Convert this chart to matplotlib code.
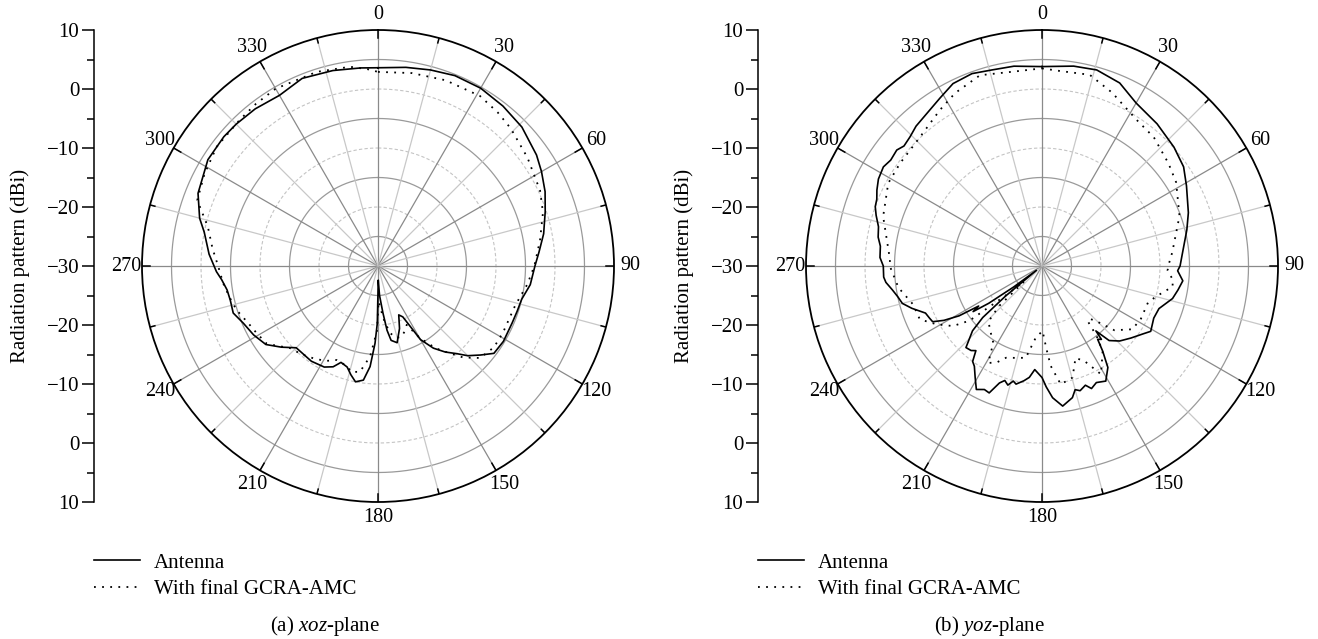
import numpy as np
import matplotlib.pyplot as plt

plt.rcParams['font.family'] = 'Liberation Serif'
plt.rcParams['mathtext.fontset'] = 'custom'
plt.rcParams['mathtext.rm'] = 'Liberation Serif'
plt.rcParams['mathtext.it'] = 'Liberation Serif:italic'

# xoz-plane, antenna alone (angle in deg, gain in dBi)
xoz_ant_ang = [0, 8, 15, 22, 30, 38, 46, 55, 60, 66, 72, 79, 85, 90, 97, 103, 108, 113, 121, 127,
               131, 135, 138, 142, 146, 150, 154, 157, 161, 166, 170, 172, 174, 177, 179, 180.7,
               182.2, 184.5, 187.3, 191, 194, 197, 201, 204, 208, 215, 225, 230, 235, 241, 247,
               252, 257, 261, 265, 268, 274, 281, 285, 292, 302, 310, 315, 322, 330, 338, 347,
               355, 360]
xoz_ant_val = [3.6, 4.0, 4.4, 4.8, 4.8, 4.4, 3.9, 2.8, 2.0, 1.0, -0.2, -1.4, -2.6, -3.4, -4.0,
               -5.0, -5.2, -5.3, -5.2, -5.4, -7.0, -8.5, -10.0, -11.5, -13.2, -15.6, -20.4, -21.0,
               -18.8, -16.6, -17.2, -19.0, -22.0, -25.0, -27.6, -20.3, -16.9, -12.9, -10.5, -10.0,
               -11.0, -12.1, -12.5, -11.3, -10.6, -10.3, -10.4, -8.6, -6.8, -5.9, -5.2, -4.2, -4.3,
               -4.1, -3.4, -2.6, -1.3, 0.0, 1.3, 2.9, 4.0, 4.1, 4.0, 3.8, 3.4, 4.3, 4.0, 3.7, 3.6]

# xoz-plane, with final GCRA-AMC
xoz_amc_ang = [0, 10, 20, 31, 38, 44, 54, 65, 72, 81, 90, 97, 106, 118, 125, 132, 137, 140.5, 145,
               150, 154, 158, 162, 166, 170, 174, 177, 179, 181, 185, 189.7, 194, 198, 203.7, 209,
               215, 221, 227, 235, 241, 246, 252.7, 258, 263.6, 270, 276, 283, 290, 298, 306.5,
               316.6, 323, 330, 342.5, 352, 357, 360]
xoz_amc_val = [2.9, 3.2, 3.5, 3.6, 3.0, 2.4, 1.3, 0.3, -0.6, -2.2, -3.5, -4.5, -5.8, -6.0, -6.0,
               -6.7, -8.8, -10.8, -13.0, -16.0, -18.9, -18.0, -17.3, -17.5, -18.5, -21.0, -23.0,
               -24.0, -18.9, -14.6, -11.8, -11.5, -12.3, -12.6, -11.6, -10.9, -10.2, -9.6, -7.0,
               -6.5, -6.0, -4.9, -4.3, -3.6, -2.9, -1.8, -0.4, 2.6, 3.3, 4.0, 4.1, 4.4, 4.7, 4.5,
               4.1, 3.4, 2.9]

# yoz-plane, antenna alone
yoz_ant_ang = [0, 9, 15.6, 23, 30, 39, 48, 55, 61, 70, 76, 84, 90, 92, 96, 100, 104, 110, 115, 121,
               124, 129, 134, 138, 140.3, 141, 142.8, 144.5, 147, 151, 155, 158, 160, 163, 165, 167,
               171.6, 175.4, 178, 180, 184, 186.5, 189, 192.4, 194, 196, 198, 200, 202.6, 205, 208,
               211, 214, 216, 218, 220, 223, 227, 229, 230.5, 232, 233.5, 235, 236.5, 237.7, 239,
               241, 243, 245, 248, 252, 255, 258, 261, 264, 266, 270, 273, 277, 280, 283.5, 287,
               289.6, 292, 294.7, 298, 302, 305, 308.6, 311, 314.4, 318, 323, 328.7, 334, 340,
               345.6, 352, 360]
yoz_ant_val = [3.8, 4.3, 4.5, 3.7, 1.9, 1.0, 0.1, -0.7, -2.0, -3.6, -4.7, -6.0, -6.6, -7.0, -6.0,
               -6.6, -7.2, -8.9, -9.1, -8.5, -9.4, -10.6, -11.7, -13.0, -15.7, -14.0, -14.4, -12.3,
               -9.5, -7.7, -8.2, -7.6, -8.5, -7.9, -8.3, -7.1, -6.0, -7.6, -9.5, -11.1, -12.4,
               -11.0, -10.3, -9.5, -9.9, -9.0, -9.6, -8.9, -6.7, -6.9, -6.3, -8.0, -9.5, -10.0,
               -11.8, -11.3, -11.1, -13.9, -16.7, -22.0, -28.8, -24.0, -19.0, -16.0, -17.3, -13.6,
               -11.0, -9.2, -9.0, -8.7, -6.8, -5.5, -5.0, -4.3, -3.4, -3.1, -3.1, -2.5, -2.4, -1.8,
               -1.5, -0.6, 0.0, 0.2, 0.8, 1.4, 1.7, 1.3, 1.5, 1.0, 1.3, 1.9, 2.4, 3.3, 4.4, 4.7,
               4.3, 4.2, 3.8]

# yoz-plane, with final GCRA-AMC
yoz_amc_ang = [0, 5, 14, 22, 33, 41, 51, 58, 70, 84, 90, 92, 96, 99, 105, 109, 118, 125, 131.6,
               135.5, 138, 140.3, 142, 144.5, 151.4, 156, 160, 164.7, 171, 175, 177, 179.5, 182,
               185, 190, 196, 201.4, 205, 209, 212.4, 215, 220.5, 224, 227, 229, 231, 233, 236,
               241, 246.4, 253.4, 261.4, 270, 272.5, 287.3, 298.3, 305.9, 316.7, 326.8, 333.3,
               342, 351.6, 360]
yoz_amc_val = [3.5, 3.2, 3.4, 1.7, -0.5, -1.1, -2.4, -3.2, -5.2, -7.8, -8.6, -8.7, -7.7, -7.6,
               -10.0, -11.0, -11.0, -11.3, -13.6, -16.9, -18.0, -17.9, -15.0, -12.3, -9.1, -12.4,
               -13.4, -10.4, -9.7, -13.0, -16.0, -19.0, -18.5, -17.8, -14.2, -13.8, -13.3, -12.0,
               -11.2, -14.6, -15.2, -16.3, -17.0, -20.0, -26.0, -22.0, -14.6, -11.8, -9.6, -7.4,
               -7.2, -5.4, -4.2, -4.2, -1.8, -0.4, -0.3, 0.1, 1.6, 2.8, 4.0, 3.3, 3.5]

ring_solid = [-25, -15, -5, 5]
ring_dashed = [-20, -10, 0]
r_min, r_max = -30, 10
lin_ticks = np.arange(-40, 41, 10)

W, H = 1318, 639
R = 236
FS = 15
fig = plt.figure(figsize=(W / 100, H / 100), dpi=100)


def rect(x, y, w, h):
    return [x / W, 1 - (y + h) / H, w / W, h / H]


def panel(cx, cy, ant_ang, ant_val, amc_ang, amc_val, caption):
    ax = fig.add_axes(rect(cx - R, cy - R, 2 * R, 2 * R), projection='polar')
    ax.set_theta_zero_location('N')
    ax.set_theta_direction(-1)
    ax.set_rlim(r_min, r_max)
    ax.grid(False)
    ax.set_xticks([])
    ax.set_yticks([])
    ax.spines['polar'].set_linewidth(1.3)

    full = np.linspace(0, 2 * np.pi, 721)
    for lev in ring_solid:
        ax.plot(full, np.full_like(full, lev), color='#9a9a9a', lw=0.9, zorder=1)
    for lev in ring_dashed:
        ax.plot(full, np.full_like(full, lev), color='#c4c4c4', lw=0.8, ls=(0, (3, 2)), zorder=1)
    for deg in range(0, 360, 15):
        th = np.deg2rad(deg)
        major = deg % 30 == 0
        ax.plot([th, th], [r_min, r_max], color='#8a8a8a' if major else '#c8c8c8',
                lw=0.9, zorder=1)
        ax.plot([th, th], [r_max - (1.4 if major else 0.85), r_max], color='k', lw=1.1, zorder=3)
        if major:
            ax.text(th, 12.7, str(deg), ha='center', va='center', fontsize=FS - 0.5,
                    clip_on=False)

    ax.plot(np.deg2rad(ant_ang), ant_val, color='k', lw=1.2, label='Antenna', zorder=4)
    ax.plot(np.deg2rad(amc_ang), amc_val, color='k', lw=1.3, ls=(0, (1, 3.5)),
            label='With final GCRA-AMC', zorder=4)

    # linear dBi scale on the left
    lin = fig.add_axes(rect(cx - 284, cy - R, 1, 2 * R))
    lin.patch.set_visible(False)
    for s in ['right', 'top', 'bottom']:
        lin.spines[s].set_visible(False)
    lin.spines['left'].set_linewidth(1.1)
    lin.set_xticks([])
    lin.set_ylim(-40, 40)
    lin.set_yticks(lin_ticks)
    lin.set_yticklabels([str(abs(int(t)) - 30).replace('-', '\u2212') for t in lin_ticks],
                        fontsize=FS)
    lin.set_yticks(np.arange(-35, 40, 10), minor=True)
    lin.tick_params(axis='y', which='major', direction='out', length=9, width=1.1, pad=1.5)
    lin.tick_params(axis='y', which='minor', direction='out', length=5, width=1.1)

    fig.text((cx - 358) / W, 1 - cy / H, 'Radiation pattern (dBi)', rotation=90,
             ha='center', va='center', fontsize=FS)

    ax.legend(loc='upper left', bbox_to_anchor=((cx - 284) / W, 1 - 553 / H),
              bbox_transform=fig.transFigure, frameon=False, fontsize=FS,
              handlelength=2.2, handletextpad=0.67, labelspacing=0.32,
              borderpad=0, borderaxespad=0)

    fig.text((cx - 53) / W, 1 - 626 / H, caption, ha='center', va='center', fontsize=FS)


panel(378, 266, xoz_ant_ang, xoz_ant_val, xoz_amc_ang, xoz_amc_val, r'(a) $\mathit{xoz}$-plane')
panel(1042, 266, yoz_ant_ang, yoz_ant_val, yoz_amc_ang, yoz_amc_val, r'(b) $\mathit{yoz}$-plane')

fig.savefig('out.png', dpi=100)
